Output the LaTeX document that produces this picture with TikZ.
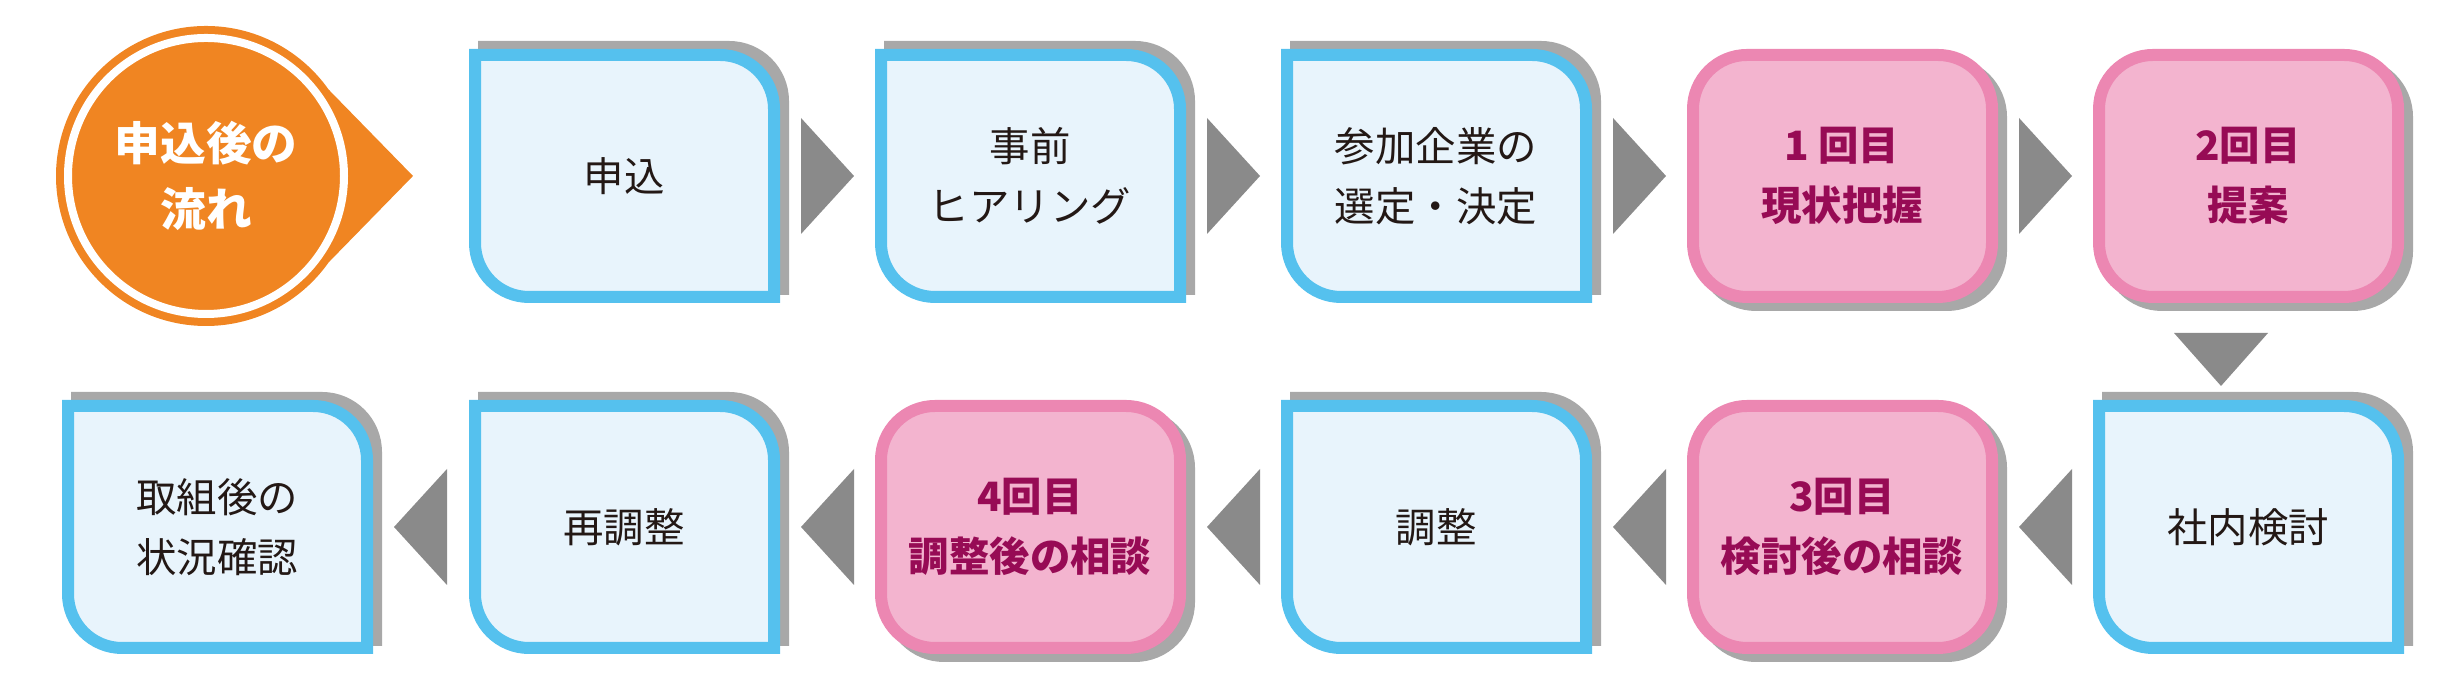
\documentclass[tikz,border=0pt]{standalone}
\usepackage{fontspec}
\setmainfont{Noto Sans CJK JP}
\definecolor{bbord}{HTML}{55C1EE}
\definecolor{bfill}{HTML}{E8F4FC}
\definecolor{pbord}{HTML}{EC87B2}
\definecolor{pfill}{HTML}{F3B4CF}
\definecolor{ptext}{HTML}{970B55}
\definecolor{orng}{HTML}{F08522}
\definecolor{arr}{HTML}{8A8A8A}
\definecolor{shd}{HTML}{A8A8A8}
\definecolor{btext}{HTML}{231815}
\tikzset{
  boxtxt/.style={align=center,font=\fontsize{11.5}{17}\selectfont,text=btext},
  pinktxt/.style={align=center,font=\fontsize{11.5}{17}\selectfont\bfseries,text=ptext},
  arrowtri/.style={fill=arr,draw=none}
}
\newcommand\bluepath[3]{%
  (#1+6,679-#2-6) -- (#1+305-54,679-#2-6) arc[start angle=90,end angle=0,radius=5.4mm]
  -- (#1+305,679-#2-248) -- (#1+6+54,679-#2-248) arc[start angle=270,end angle=180,radius=5.4mm] -- cycle}
\newcommand\bluebox[4]{%
  \draw[shd,fill=shd,line width=1.2mm] \bluepath{#1+9}{#2+8}{};
  \draw[bbord,fill=bfill,line width=1.2mm] \bluepath{#1}{#2}{};
  \node[boxtxt] (#3) at (#1+155,679-#2-127) {#4};}
\newcommand\pinkbox[4]{%
  \draw[shd,fill=shd,line width=1.2mm,rounded corners=5.4mm] (#1+15,679-#2-256) rectangle (#1+314,679-#2-14);
  \draw[pbord,fill=pfill,line width=1.2mm,rounded corners=5.4mm] (#1+6,679-#2-248) rectangle (#1+305,679-#2-6);
  \node[pinktxt] (#3) at (#1+155,679-#2-127) {#4};}
\newcommand\rarrow[2]{\fill[arrowtri] (#1+332,679-#2-58) -- (#1+385,679-#2) -- (#1+332,679-#2+58) -- cycle;}
\newcommand\larrow[2]{\fill[arrowtri] (#1+385,679-#2-58) -- (#1+332,679-#2) -- (#1+385,679-#2+58) -- cycle;}
\begin{document}
\begin{tikzpicture}[x=0.1mm,y=0.1mm]
\useasboundingbox (0,0) rectangle (2452,679);
\fill[orng] (206,503) circle[radius=15mm];
\fill[orng] (329,589) -- (413,503) -- (329,417) -- cycle;
\draw[white,line width=0.8mm] (206,503) circle[radius=13.8mm];
\node[align=center,text=white,font=\fontsize{13}{19}\selectfont\bfseries] (start) at (206,503) {申込後の\\流れ};
\bluebox{469}{49}{r1}{申込}
\bluebox{875}{49}{r2}{事前\\ヒアリング}
\bluebox{1281}{49}{r3}{参加企業の\\選定・決定}
\pinkbox{1687}{49}{r4}{1 回目\\現状把握}
\pinkbox{2093}{49}{r5}{2回目\\提案}
\rarrow{469}{176}\rarrow{875}{176}\rarrow{1281}{176}\rarrow{1687}{176}
\fill[arrowtri] (2174,679-333) -- (2268,679-333) -- (2221,679-386) -- cycle;
\bluebox{62}{400}{s1}{取組後の\\状況確認}
\bluebox{469}{400}{s2}{再調整}
\pinkbox{875}{400}{s3}{4回目\\調整後の相談}
\bluebox{1281}{400}{s4}{調整}
\pinkbox{1687}{400}{s5}{3回目\\検討後の相談}
\bluebox{2093}{400}{s6}{社内検討}
\larrow{62}{527}\larrow{469}{527}\larrow{875}{527}\larrow{1281}{527}\larrow{1687}{527}
\end{tikzpicture}
\end{document}
